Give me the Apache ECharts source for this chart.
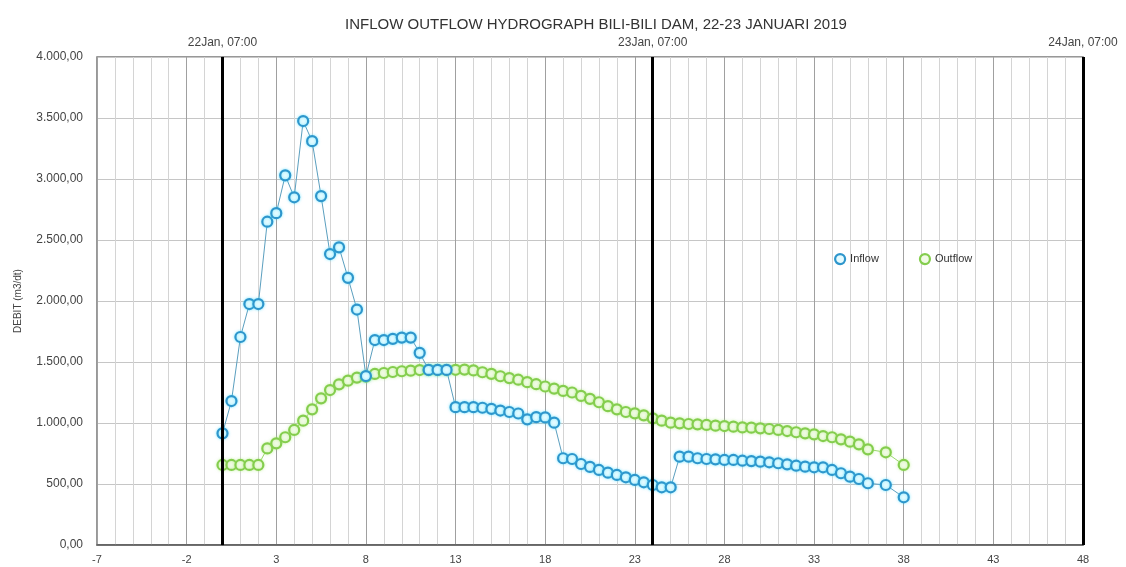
<!DOCTYPE html>
<html>
<head>
<meta charset="utf-8">
<title>Inflow Outflow Hydrograph Bili-Bili Dam</title>
<script src="https://cdn.jsdelivr.net/npm/echarts@6/dist/echarts.min.js"></script>
<style>
  html, body { margin: 0; padding: 0; background: #ffffff; }
  #chart { width: 1126px; height: 567px; }
</style>
</head>
<body>
<div id="chart"></div>
<script>
// Hours counted from 22 Jan, 07:00 (half-hourly readings, then hourly at the end)
const hours = [
  0, 0.5, 1, 1.5, 2, 2.5, 3, 3.5, 4, 4.5, 5, 5.5, 6, 6.5, 7, 7.5, 8, 8.5, 9, 9.5,
  10, 10.5, 11, 11.5, 12, 12.5, 13, 13.5, 14, 14.5, 15, 15.5, 16, 16.5, 17, 17.5, 18, 18.5, 19, 19.5,
  20, 20.5, 21, 21.5, 22, 22.5, 23, 23.5, 24, 24.5, 25, 25.5, 26, 26.5, 27, 27.5, 28, 28.5, 29, 29.5,
  30, 30.5, 31, 31.5, 32, 32.5, 33, 33.5, 34, 34.5, 35, 35.5, 36, 37, 38
];

// Inflow discharge (m3/dt)
const inflow = [
  915, 1180, 1705, 1975, 1975, 2650, 2720, 3030, 2850, 3475, 3310, 2860, 2385, 2440, 2190, 1930, 1385, 1680, 1680, 1690,
  1700, 1700, 1575, 1435, 1435, 1435, 1130, 1130, 1130, 1125, 1116, 1102, 1090, 1078, 1030, 1048, 1046, 1003, 711, 705,
  664, 640, 615, 593, 574, 555, 533, 514, 492, 473, 473, 724, 724, 711, 705, 702, 697, 697, 691, 688,
  683, 678, 670, 661, 650, 642, 637, 637, 615, 588, 560, 541, 506, 492, 391
];

// Outflow discharge (m3/dt)
const outflow = [
  656, 656, 656, 656, 656, 792, 833, 883, 943, 1019, 1112, 1202, 1270, 1317, 1347, 1372, 1380, 1402, 1410, 1418,
  1424, 1429, 1434, 1434, 1434, 1434, 1436, 1438, 1431, 1416, 1403, 1383, 1368, 1355, 1335, 1318, 1299, 1282, 1263, 1250,
  1222, 1198, 1170, 1138, 1112, 1090, 1079, 1063, 1038, 1019, 1003, 997, 992, 989, 984, 978, 975, 970, 964, 962,
  956, 951, 943, 934, 924, 915, 907, 893, 883, 866, 847, 825, 784, 760, 656
];

// Day boundaries drawn as heavy vertical rules, with their labels on the top axis
const dayMarks = [0, 24, 48];
const dayLabels = ['22Jan, 07:00', '23Jan, 07:00', '24Jan, 07:00'];

const xMin = -7, xMax = 48;
const yMin = 0, yMax = 4000, yStep = 500;

const FONT = '"Liberation Sans", Arial, Helvetica, sans-serif';

function fmtId(v) {
  // Indonesian number format: 4.000,00
  const parts = v.toFixed(2).split('.');
  const intPart = parts[0].replace(/\B(?=(\d{3})+(?!\d))/g, '.');
  return intPart + ',' + parts[1];
}

const pairs = (xs, ys) => xs.map((x, i) => [x, ys[i]]);

const chart = echarts.init(document.getElementById('chart'), null, { renderer: 'canvas' });

const inflowStyle = { color: '#e4fbff', borderColor: '#2e96cc', borderWidth: 2.2,
  shadowColor: 'rgba(60,220,255,0.55)', shadowBlur: 3 };
const outflowStyle = { color: '#f1fbe6', borderColor: '#84cd4e', borderWidth: 2.2,
  shadowColor: 'rgba(170,240,110,0.5)', shadowBlur: 3 };

chart.setOption({
  animation: false,
  backgroundColor: '#ffffff',
  title: {
    text: 'INFLOW OUTFLOW HYDROGRAPH BILI-BILI DAM, 22-23 JANUARI 2019',
    left: 591,
    top: 12,
    textAlign: 'center',
    textStyle: { fontFamily: FONT, fontSize: 15, fontWeight: 'normal', color: '#333' }
  },
  legend: {
    left: 829,
    top: 248,
    itemWidth: 10,
    itemHeight: 10,
    itemGap: 40,
    icon: 'circle',
    textStyle: { fontFamily: FONT, fontSize: 11, color: '#333' },
    data: [
      { name: 'Inflow', itemStyle: { color: '#e4fbff', borderColor: '#2e96cc', borderWidth: 2.2 } },
      { name: 'Outflow', itemStyle: { color: '#f1fbe6', borderColor: '#84cd4e', borderWidth: 2.2 } }
    ]
  },
  grid: {
    left: 97, right: 43, top: 57, bottom: 22,
    show: true, borderColor: '#777', borderWidth: 1.5
  },
  xAxis: [
    {
      type: 'value',
      position: 'bottom',
      min: xMin, max: xMax, interval: 5,
      axisLine: { show: true, onZero: false, lineStyle: { color: '#555', width: 1.5 } },
      axisTick: { show: false },
      axisLabel: { fontFamily: FONT, fontSize: 11, color: '#444', margin: 9 },
      splitLine: { show: true, lineStyle: { color: '#a0a0a0', width: 1 } },
      minorTick: { show: false, splitNumber: 5 },
      minorSplitLine: { show: true, lineStyle: { color: '#d4d4d4', width: 1 } }
    },
    {
      type: 'value',
      position: 'top',
      min: xMin, max: xMax, interval: 1,
      axisLine: { show: false },
      axisTick: { show: false },
      splitLine: { show: false },
      axisLabel: {
        fontFamily: FONT, fontSize: 12, color: '#444', margin: 8,
        formatter: v => {
          const k = dayMarks.indexOf(Math.round(v));
          return k >= 0 && Math.abs(v - dayMarks[k]) < 1e-6 ? dayLabels[k] : '';
        }
      }
    }
  ],
  yAxis: {
    type: 'value',
    min: yMin, max: yMax, interval: yStep,
    name: 'DEBIT (m3/dt)',
    nameLocation: 'middle',
    nameGap: 74,
    nameRotate: 90,
    nameTextStyle: { fontFamily: FONT, fontSize: 10, color: '#444' },
    axisLine: { show: true, lineStyle: { color: '#8a8a8a', width: 2 } },
    axisTick: { show: false },
    axisLabel: { fontFamily: FONT, fontSize: 12, color: '#444', margin: 14, formatter: fmtId },
    splitLine: { show: true, lineStyle: { color: '#c6c6c6', width: 1 } }
  },
  series: [
    {
      name: 'Outflow',
      type: 'line',
      xAxisIndex: 0,
      data: pairs(hours, outflow),
      symbol: 'circle',
      symbolSize: 10,
      showAllSymbol: true,
      lineStyle: { color: '#9ad96b', width: 1 },
      itemStyle: outflowStyle,
      z: 3
    },
    {
      name: 'Inflow',
      type: 'line',
      xAxisIndex: 0,
      data: pairs(hours, inflow),
      symbol: 'circle',
      symbolSize: 10,
      showAllSymbol: true,
      lineStyle: { color: '#5b9fbf', width: 1 },
      itemStyle: inflowStyle,
      z: 4,
      markLine: {
        silent: true,
        symbol: 'none',
        label: { show: false },
        lineStyle: { color: '#000', width: 3, type: 'solid' },
        data: dayMarks.map(h => ({ xAxis: h }))
      }
    }
  ]
});
</script>
</body>
</html>
